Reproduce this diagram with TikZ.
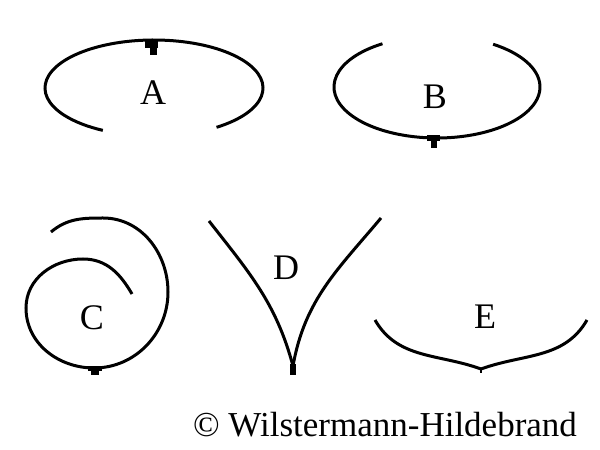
\documentclass[tikz,border=0pt]{standalone}
\usepackage{fontspec}
\setmainfont{Liberation Serif}
\usetikzlibrary{positioning}

\begin{document}
\begin{tikzpicture}[x=1pt,y=1pt,line width=3pt,
  label/.style={font=\fontsize{36}{40}\selectfont,inner sep=0pt},
  mount/.style={fill=black,draw=none}]
\useasboundingbox (0,0) rectangle (600,450);
% A
\draw (154,362) ++(-55:109 and 48) arc[start angle=-55,end angle=242,x radius=109,y radius=48];
\fill[mount] (145,402) rectangle (158,410);
\fill[mount] (150,395) rectangle (157,402);
\node[label] (a) at (153,357) {A};
% B
\draw (437,363) ++(122:103 and 51) arc[start angle=122,end angle=417,x radius=103,y radius=51];
\fill[mount] (427,309) rectangle (440,315);
\fill[mount] (431,302) rectangle (437,309);
\node[label] (b) at (435,353) {B};
% C
\draw (51,218) to[out=40,in=180] (103,232) to[out=0,in=90] (168,158)
  to[out=-90,in=0] (94,82) to[out=180,in=-90] (26,142)
  to[out=90,in=180] (83,191) to[out=0,in=120] (132,156);
\fill[mount] (88,79) rectangle (102,84);
\fill[mount] (91,75) rectangle (99,79);
\node[label] (c) at (92,132) {C};
% D
\draw (209,229) to[out=-52,in=105] (293,84);
\draw (381,232) to[out=-130,in=80] (293,84);
\fill[mount] (290,75) rectangle (296,86);
\node[label] (d) at (286,182) {D};
% E
\draw (375,130) to[out=-60,in=160] (481,81);
\draw (587,130) to[out=-120,in=20] (481,81);
\draw[line width=2pt] (481,82) -- (481,77);
\node[label] (e) at (485,133) {E};
% copyright
\node[font=\fontsize{35}{40}\selectfont,inner sep=0pt] (copy) at (385,25) {© Wilstermann-Hildebrand};
\end{tikzpicture}
\end{document}
